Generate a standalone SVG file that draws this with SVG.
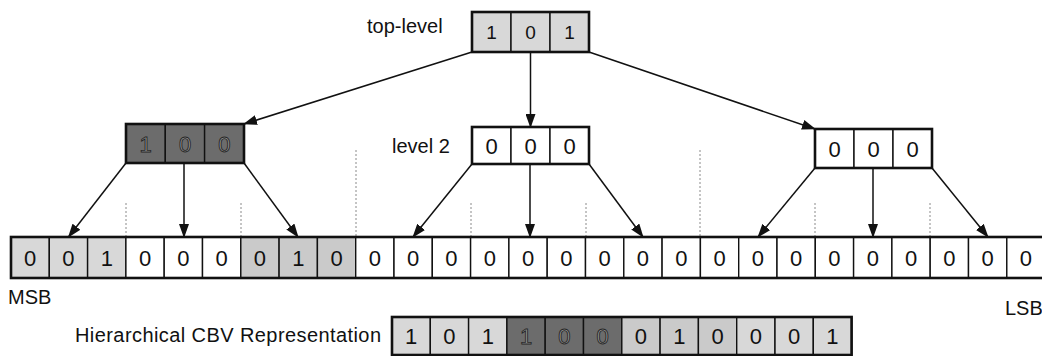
<svg xmlns="http://www.w3.org/2000/svg" width="1042" height="356" viewBox="0 0 1042 356">
  <defs>
    <style>
      .lbl { font-family: "Liberation Sans", Arial, sans-serif; font-size: 20px; fill: #111; }
      .dig { font-family: "Liberation Sans", Arial, sans-serif; font-size: 22px; fill: #111; text-anchor: middle; }
      .dig-sm { font-family: "Liberation Sans", Arial, sans-serif; font-size: 19px; fill: #111; text-anchor: middle; }
      .dig-dark { font-family: "Liberation Sans", Arial, sans-serif; font-size: 22px; fill: #9a9a9a; stroke: #262626; stroke-width: 0.9; text-anchor: middle; }
      .cell { stroke: #111; stroke-width: 1.4; }
      .frame { fill: none; stroke: #111; stroke-width: 2.6; }
      .white { fill: #ffffff; }
      .light { fill: #d8d8d8; }
      .mid { fill: #cacaca; }
      .dark { fill: #6c6c6c; }
      .edge { stroke: #111; stroke-width: 1.5; fill: none; marker-end: url(#arrow); }
      .guide { stroke: #8a8a8a; stroke-width: 1; stroke-dasharray: 2 2; fill: none; }
    </style>
    <marker id="arrow" markerUnits="userSpaceOnUse" markerWidth="14" markerHeight="10" refX="13" refY="5" orient="auto">
      <path d="M0,0 L14,5 L0,10 z" fill="#111"/>
    </marker>
  </defs>

  <rect width="1042" height="356" fill="#ffffff"/>

  <!-- dotted group separators -->
  <g id="guides">
    <line class="guide" x1="126" y1="203" x2="126" y2="236"/>
    <line class="guide" x1="241" y1="203" x2="241" y2="236"/>
    <line class="guide" x1="356" y1="150" x2="356" y2="236"/>
    <line class="guide" x1="471" y1="203" x2="471" y2="236"/>
    <line class="guide" x1="586" y1="203" x2="586" y2="236"/>
    <line class="guide" x1="700" y1="150" x2="700" y2="236"/>
    <line class="guide" x1="815" y1="203" x2="815" y2="236"/>
    <line class="guide" x1="930" y1="203" x2="930" y2="236"/>
  </g>

  <!-- connectors -->
  <g id="connectors">
    <line class="edge" x1="472" y1="52" x2="244" y2="124"/>
    <line class="edge" x1="530.5" y1="52" x2="530.5" y2="127"/>
    <line class="edge" x1="589" y1="52" x2="815" y2="129"/>

    <line class="edge" x1="126" y1="163" x2="68.5" y2="237"/>
    <line class="edge" x1="184" y1="163" x2="184" y2="237"/>
    <line class="edge" x1="244" y1="163" x2="298" y2="237"/>

    <line class="edge" x1="472" y1="164" x2="413" y2="237"/>
    <line class="edge" x1="530" y1="164" x2="530" y2="237"/>
    <line class="edge" x1="589" y1="164" x2="643" y2="237"/>

    <line class="edge" x1="815" y1="168" x2="758" y2="237"/>
    <line class="edge" x1="873" y1="168" x2="873" y2="237"/>
    <line class="edge" x1="932" y1="168" x2="988" y2="237"/>
  </g>

  <!-- top-level node -->
  <g id="top-level">
    <text class="lbl" x="367" y="33">top-level</text>
    <rect class="cell light" x="472" y="12" width="39" height="40"/>
    <rect class="cell light" x="511" y="12" width="39" height="40"/>
    <rect class="cell light" x="550" y="12" width="39" height="40"/>
    <rect class="frame" x="472" y="12" width="117" height="40"/>
    <text class="dig-sm" x="491.5" y="39">1</text>
    <text class="dig-sm" x="530.5" y="39">0</text>
    <text class="dig-sm" x="569.5" y="39">1</text>
  </g>

  <!-- level 2, left node -->
  <g id="level2-left">
    <rect class="cell dark" x="126" y="124" width="39.3" height="39"/>
    <rect class="cell dark" x="165.3" y="124" width="39.3" height="39"/>
    <rect class="cell dark" x="204.6" y="124" width="39.4" height="39"/>
    <rect class="frame" x="126" y="124" width="118" height="39"/>
    <text class="dig-dark" x="145.6" y="151.5">1</text>
    <text class="dig-dark" x="185" y="151.5">0</text>
    <text class="dig-dark" x="224.3" y="151.5">0</text>
  </g>

  <!-- level 2, middle node -->
  <g id="level2-mid">
    <text class="lbl" x="392" y="153">level 2</text>
    <rect class="cell white" x="472" y="127" width="39" height="37"/>
    <rect class="cell white" x="511" y="127" width="39" height="37"/>
    <rect class="cell white" x="550" y="127" width="39" height="37"/>
    <rect class="frame" x="472" y="127" width="117" height="37"/>
    <text class="dig" x="491.5" y="153.5">0</text>
    <text class="dig" x="530.5" y="153.5">0</text>
    <text class="dig" x="569.5" y="153.5">0</text>
  </g>

  <!-- level 2, right node -->
  <g id="level2-right">
    <rect class="cell white" x="815" y="129" width="39" height="39"/>
    <rect class="cell white" x="854" y="129" width="39" height="39"/>
    <rect class="cell white" x="893" y="129" width="39" height="39"/>
    <rect class="frame" x="815" y="129" width="117" height="39"/>
    <text class="dig" x="834.5" y="156.5">0</text>
    <text class="dig" x="873.5" y="156.5">0</text>
    <text class="dig" x="912.5" y="156.5">0</text>
  </g>

  <!-- leaf bit vector -->
  <g id="leaf-vector">
    <rect class="cell light" x="11" y="237" width="38.3" height="41"/>
    <rect class="cell light" x="49.3" y="237" width="38.3" height="41"/>
    <rect class="cell light" x="87.6" y="237" width="38.3" height="41"/>
    <rect class="cell white" x="125.9" y="237" width="38.3" height="41"/>
    <rect class="cell white" x="164.2" y="237" width="38.3" height="41"/>
    <rect class="cell white" x="202.5" y="237" width="38.3" height="41"/>
    <rect class="cell mid" x="240.8" y="237" width="38.3" height="41"/>
    <rect class="cell mid" x="279.1" y="237" width="38.3" height="41"/>
    <rect class="cell mid" x="317.4" y="237" width="38.3" height="41"/>
    <rect class="cell white" x="355.7" y="237" width="38.3" height="41"/>
    <rect class="cell white" x="394" y="237" width="38.3" height="41"/>
    <rect class="cell white" x="432.3" y="237" width="38.3" height="41"/>
    <rect class="cell white" x="470.6" y="237" width="38.3" height="41"/>
    <rect class="cell white" x="508.9" y="237" width="38.3" height="41"/>
    <rect class="cell white" x="547.2" y="237" width="38.3" height="41"/>
    <rect class="cell white" x="585.5" y="237" width="38.3" height="41"/>
    <rect class="cell white" x="623.8" y="237" width="38.3" height="41"/>
    <rect class="cell white" x="662.1" y="237" width="38.3" height="41"/>
    <rect class="cell white" x="700.4" y="237" width="38.3" height="41"/>
    <rect class="cell white" x="738.7" y="237" width="38.3" height="41"/>
    <rect class="cell white" x="777" y="237" width="38.3" height="41"/>
    <rect class="cell white" x="815.3" y="237" width="38.3" height="41"/>
    <rect class="cell white" x="853.6" y="237" width="38.3" height="41"/>
    <rect class="cell white" x="891.9" y="237" width="38.3" height="41"/>
    <rect class="cell white" x="930.2" y="237" width="38.3" height="41"/>
    <rect class="cell white" x="968.5" y="237" width="38.3" height="41"/>
    <rect class="cell white" x="1006.8" y="237" width="38.3" height="41"/>
    <rect class="frame" x="11" y="237" width="1034" height="41"/>
    <text class="dig" x="30.15" y="265.5">0</text>
    <text class="dig" x="68.45" y="265.5">0</text>
    <text class="dig" x="106.75" y="265.5">1</text>
    <text class="dig" x="145.05" y="265.5">0</text>
    <text class="dig" x="183.35" y="265.5">0</text>
    <text class="dig" x="221.65" y="265.5">0</text>
    <text class="dig" x="259.95" y="265.5">0</text>
    <text class="dig" x="298.25" y="265.5">1</text>
    <text class="dig" x="336.55" y="265.5">0</text>
    <text class="dig" x="374.85" y="265.5">0</text>
    <text class="dig" x="413.15" y="265.5">0</text>
    <text class="dig" x="451.45" y="265.5">0</text>
    <text class="dig" x="489.75" y="265.5">0</text>
    <text class="dig" x="528.05" y="265.5">0</text>
    <text class="dig" x="566.35" y="265.5">0</text>
    <text class="dig" x="604.65" y="265.5">0</text>
    <text class="dig" x="642.95" y="265.5">0</text>
    <text class="dig" x="681.25" y="265.5">0</text>
    <text class="dig" x="719.55" y="265.5">0</text>
    <text class="dig" x="757.85" y="265.5">0</text>
    <text class="dig" x="796.15" y="265.5">0</text>
    <text class="dig" x="834.45" y="265.5">0</text>
    <text class="dig" x="872.75" y="265.5">0</text>
    <text class="dig" x="911.05" y="265.5">0</text>
    <text class="dig" x="949.35" y="265.5">0</text>
    <text class="dig" x="987.65" y="265.5">0</text>
    <text class="dig" x="1025.95" y="265.5">0</text>
    <text class="lbl" x="8" y="304">MSB</text>
    <text class="lbl" x="1005" y="315">LSB</text>
  </g>

  <!-- hierarchical representation -->
  <g id="representation">
    <text class="lbl" x="75" y="342" textLength="306" lengthAdjust="spacing">Hierarchical CBV Representation</text>
    <rect class="cell light" x="392" y="317" width="38.3" height="38"/>
    <rect class="cell light" x="430.3" y="317" width="38.3" height="38"/>
    <rect class="cell light" x="468.6" y="317" width="38.3" height="38"/>
    <rect class="cell dark" x="506.9" y="317" width="38.3" height="38"/>
    <rect class="cell dark" x="545.2" y="317" width="38.3" height="38"/>
    <rect class="cell dark" x="583.5" y="317" width="38.3" height="38"/>
    <rect class="cell mid" x="621.8" y="317" width="38.3" height="38"/>
    <rect class="cell mid" x="660.1" y="317" width="38.3" height="38"/>
    <rect class="cell mid" x="698.4" y="317" width="38.3" height="38"/>
    <rect class="cell light" x="736.7" y="317" width="38.3" height="38"/>
    <rect class="cell light" x="775" y="317" width="38.3" height="38"/>
    <rect class="cell light" x="813.3" y="317" width="38.3" height="38"/>
    <rect class="frame" x="392" y="317" width="459.6" height="38"/>
    <text class="dig" x="411.15" y="344">1</text>
    <text class="dig" x="449.45" y="344">0</text>
    <text class="dig" x="487.75" y="344">1</text>
    <text class="dig-dark" x="526.05" y="344">1</text>
    <text class="dig-dark" x="564.35" y="344">0</text>
    <text class="dig-dark" x="602.65" y="344">0</text>
    <text class="dig" x="640.95" y="344">0</text>
    <text class="dig" x="679.25" y="344">1</text>
    <text class="dig" x="717.55" y="344">0</text>
    <text class="dig" x="755.85" y="344">0</text>
    <text class="dig" x="794.15" y="344">0</text>
    <text class="dig" x="832.45" y="344">1</text>
  </g>
</svg>
